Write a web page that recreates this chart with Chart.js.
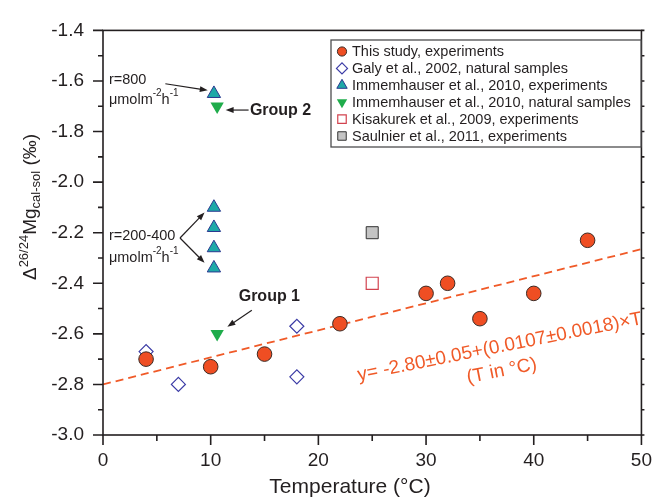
<!DOCTYPE html>
<html>
<head>
<meta charset="utf-8">
<script src="https://cdn.jsdelivr.net/npm/chart.js@4.4.1/dist/chart.umd.min.js"></script>
<style>
  html, body { margin: 0; padding: 0; background: #fff; }
  canvas { display: block; }
</style>
</head>
<body>
<canvas id="chart" width="666" height="497"></canvas>
<script>
// values (temperature in °C, Δ26/24Mg in ‰)
const studyTemp = [4, 10, 15, 22, 30, 32, 35, 40, 45];
const studyMg = [-2.70, -2.73, -2.68, -2.56, -2.44, -2.40, -2.54, -2.44, -2.23];
const galyTemp = [4, 7, 18, 18];
const galyMg = [-2.67, -2.80, -2.57, -2.77];
const immExpTemp = [10.3, 10.3, 10.3, 10.3, 10.3];
const immExpMg = [-1.65, -2.10, -2.18, -2.26, -2.34];
const immNatTemp = [10.6, 10.6];
const immNatMg = [-1.70, -2.60];
const kisaTemp = [25];
const kisaMg = [-2.40];
const saulTemp = [25];
const saulMg = [-2.20];
const fitTemp = [0, 50];
const fitMg = [-2.80, -2.265];

const seriesLabels = [
  'This study, experiments',
  'Galy et al., 2002, natural samples',
  'Immemhauser et al., 2010, experiments',
  'Immemhauser et al., 2010, natural samples',
  'Kisakurek et al., 2009, experiments',
  'Saulnier et al., 2011, experiments'
];

// axis ticks
const xMajor = [0, 10, 20, 30, 40, 50];
const xMinor = [5, 15, 25, 35, 45];
const yMajor = [-3.0, -2.8, -2.6, -2.4, -2.2, -2.0, -1.8, -1.6, -1.4];
const yMinor = [-2.9, -2.7, -2.5, -2.3, -2.1, -1.9, -1.7, -1.5];

const FONT = '"Liberation Sans", Arial, Helvetica, sans-serif';
const INK = '#231f20';
const FIT_COLOR = '#f05a28';

const pts = (xs, ys) => xs.map((x, i) => ({ x: x, y: ys[i] }));

Chart.defaults.font.family = FONT;
Chart.defaults.color = INK;

// draws a run of text pieces (for super/subscripts)
function drawRich(ctx, x, y, parts, align) {
  const fontOf = p => (p.bold ? 'bold ' : '') + p.size + 'px ' + FONT;
  let total = 0;
  parts.forEach(p => { ctx.font = fontOf(p); total += ctx.measureText(p.t).width; });
  let cx = align === 'center' ? x - total / 2 : x;
  ctx.textAlign = 'left';
  ctx.textBaseline = 'alphabetic';
  parts.forEach(p => {
    ctx.font = fontOf(p);
    ctx.fillText(p.t, cx, y + (p.dy || 0));
    cx += ctx.measureText(p.t).width;
  });
}

function arrow(ctx, x1, y1, x2, y2) {
  const a = Math.atan2(y2 - y1, x2 - x1);
  const len = 8, half = 3;
  ctx.beginPath();
  ctx.moveTo(x1, y1);
  ctx.lineTo(x2 - Math.cos(a) * len * 0.8, y2 - Math.sin(a) * len * 0.8);
  ctx.stroke();
  ctx.beginPath();
  ctx.moveTo(x2, y2);
  ctx.lineTo(x2 - Math.cos(a) * len - Math.sin(a) * half, y2 - Math.sin(a) * len + Math.cos(a) * half);
  ctx.lineTo(x2 - Math.cos(a) * len + Math.sin(a) * half, y2 - Math.sin(a) * len - Math.cos(a) * half);
  ctx.closePath();
  ctx.fill();
}

// box frame, tick marks and axis titles
const framePlugin = {
  id: 'frame',
  afterDraw(chart) {
    const { ctx, chartArea: a, scales: { x, y } } = chart;
    ctx.save();
    ctx.strokeStyle = INK;
    ctx.lineWidth = 1.6;
    ctx.strokeRect(a.left, a.top, a.right - a.left, a.bottom - a.top);
    ctx.beginPath();
    xMajor.forEach(v => { const p = x.getPixelForValue(v); ctx.moveTo(p, a.bottom); ctx.lineTo(p, a.bottom + 10); });
    xMinor.forEach(v => { const p = x.getPixelForValue(v); ctx.moveTo(p, a.bottom); ctx.lineTo(p, a.bottom + 6); });
    yMajor.forEach(v => { const p = y.getPixelForValue(v); ctx.moveTo(a.left - 10, p); ctx.lineTo(a.left, p); });
    yMinor.forEach(v => { const p = y.getPixelForValue(v); ctx.moveTo(a.left - 5, p); ctx.lineTo(a.left, p); });
    yMajor.concat(yMinor).forEach(v => { const p = y.getPixelForValue(v); ctx.moveTo(a.right, p); ctx.lineTo(a.right + 3, p); });
    ctx.stroke();

    ctx.fillStyle = INK;
    // x axis title (sits a little left of centre in the original)
    drawRich(ctx, 350, 493, [{ t: 'Temperature (\u00b0C)', size: 21 }], 'center');

    // y axis title with superscript / subscript
    ctx.translate(35.5, 207);
    ctx.rotate(-Math.PI / 2);
    drawRich(ctx, 0, 0, [
      { t: '\u0394', size: 19 },
      { t: '26/24', size: 13, dy: -8 },
      { t: 'Mg', size: 19 },
      { t: 'cal-sol', size: 13, dy: 4 },
      { t: ' (\u2030)', size: 19 }
    ], 'center');
    ctx.restore();
  }
};

// text notes, arrows and the regression equation
const notesPlugin = {
  id: 'notes',
  afterDatasetsDraw(chart) {
    const { ctx, scales: { x, y } } = chart;
    const P = (vx, vy) => [x.getPixelForValue(vx), y.getPixelForValue(vy)];
    const unit = [
      { t: '\u03bcmolm', size: 14.5 },
      { t: '-2', size: 10, dy: -8 },
      { t: 'h', size: 14.5 },
      { t: '-1', size: 10, dy: -8 }
    ];
    ctx.save();
    ctx.fillStyle = INK;
    ctx.strokeStyle = INK;
    ctx.lineWidth = 1.2;

    let p = P(0.55, -1.610);
    drawRich(ctx, p[0], p[1], [{ t: 'r=800', size: 14.5 }]);
    p = P(0.55, -1.692);
    drawRich(ctx, p[0], p[1], unit);
    p = P(0.55, -2.229);
    drawRich(ctx, p[0], p[1], [{ t: 'r=200-400', size: 14.5 }]);
    p = P(0.55, -2.315);
    drawRich(ctx, p[0], p[1], unit);

    p = P(13.64, -1.733);
    drawRich(ctx, p[0], p[1], [{ t: 'Group 2', size: 16, bold: true }]);
    p = P(12.6, -2.470);
    drawRich(ctx, p[0], p[1], [{ t: 'Group 1', size: 16, bold: true }]);

    const arrows = [
      [5.79, -1.611, 9.73, -1.637],
      [13.52, -1.715, 11.39, -1.715],
      [7.15, -2.221, 9.43, -2.120],
      [7.15, -2.221, 9.43, -2.319],
      [13.82, -2.507, 11.55, -2.572]
    ];
    arrows.forEach(r => {
      const s = P(r[0], r[1]), e = P(r[2], r[3]);
      arrow(ctx, s[0], s[1], e[0], e[1]);
    });

    // fit equation, rotated along the dashed line
    ctx.fillStyle = FIT_COLOR;
    const ang = -11.3 * Math.PI / 180;
    p = P(23.75, -2.785);
    ctx.save();
    ctx.translate(p[0], p[1]);
    ctx.rotate(ang);
    drawRich(ctx, 0, 0, [{ t: 'y= -2.80\u00b10.05+(0.0107\u00b10.0018)\u00d7T', size: 19 }]);
    ctx.restore();
    p = P(33.9, -2.795);
    ctx.save();
    ctx.translate(p[0], p[1]);
    ctx.rotate(ang);
    drawRich(ctx, 0, 0, [{ t: '(T in \u00b0C)', size: 19 }]);
    ctx.restore();
    ctx.restore();
  }
};

// boxed legend in the upper right corner
const legendPlugin = {
  id: 'boxLegend',
  afterDraw(chart) {
    const { ctx } = chart;
    const left = 331, top = 40, right = 641, bottom = 147;
    ctx.save();
    ctx.fillStyle = '#fff';
    ctx.fillRect(left, top, right - left, bottom - top);
    ctx.strokeStyle = '#4d4d4f';
    ctx.lineWidth = 1.3;
    ctx.strokeRect(left, top, right - left, bottom - top);
    const items = chart.data.datasets.filter(d => d.inLegend);
    items.forEach((d, i) => {
      const yy = 51.5 + i * 16.9;
      ctx.fillStyle = d.backgroundColor;
      ctx.strokeStyle = d.borderColor;
      ctx.lineWidth = d.borderWidth || 0.001;
      Chart.helpers.drawPoint(ctx, {
        pointStyle: d.pointStyle,
        rotation: d.rotation || 0,
        radius: d.legendRadius,
        borderWidth: d.borderWidth
      }, 342, yy);
      ctx.fillStyle = INK;
      ctx.font = '14.5px ' + FONT;
      ctx.textAlign = 'left';
      ctx.textBaseline = 'middle';
      ctx.fillText(d.label, 352, yy + 0.5);
    });
    ctx.restore();
  }
};

new Chart(document.getElementById('chart'), {
  type: 'scatter',
  data: {
    datasets: [
      {
        label: seriesLabels[0], data: pts(studyTemp, studyMg), inLegend: true,
        pointStyle: 'circle', pointRadius: 7.3, legendRadius: 4.6,
        backgroundColor: '#ef4e23', borderColor: '#3b2b25', borderWidth: 1
      },
      {
        label: seriesLabels[1], data: pts(galyTemp, galyMg), inLegend: true,
        pointStyle: 'rectRot', pointRadius: 7, legendRadius: 5.5,
        backgroundColor: '#ffffff', borderColor: '#3c3ca6', borderWidth: 1.2
      },
      {
        label: seriesLabels[2], data: pts(immExpTemp, immExpMg), inLegend: true,
        pointStyle: 'triangle', pointRadius: 7.7, legendRadius: 6,
        backgroundColor: '#1ea9a8', borderColor: '#2b3990', borderWidth: 1
      },
      {
        label: seriesLabels[3], data: pts(immNatTemp, immNatMg), inLegend: true,
        pointStyle: 'triangle', rotation: 180, pointRotation: 180, pointRadius: 7.7, legendRadius: 6,
        backgroundColor: '#1fac4b', borderColor: '#1fac4b', borderWidth: 0
      },
      {
        label: seriesLabels[4], data: pts(kisaTemp, kisaMg), inLegend: true,
        pointStyle: 'rect', pointRadius: 8.5, legendRadius: 6,
        backgroundColor: '#ffffff', borderColor: '#d2434f', borderWidth: 1.2
      },
      {
        label: seriesLabels[5], data: pts(saulTemp, saulMg), inLegend: true,
        pointStyle: 'rect', pointRadius: 8.5, legendRadius: 6,
        backgroundColor: '#c4c4c4', borderColor: '#333333', borderWidth: 1
      },
      {
        type: 'line', label: 'fit', data: pts(fitTemp, fitMg), order: 10,
        borderColor: FIT_COLOR, borderWidth: 1.8, borderDash: [8, 5],
        pointRadius: 0, fill: false
      }
    ]
  },
  options: {
    responsive: false,
    animation: false,
    devicePixelRatio: 1,
    layout: { padding: { top: 24, right: 13, left: 0, bottom: 0 } },
    plugins: { legend: { display: false }, tooltip: { enabled: false } },
    scales: {
      x: {
        type: 'linear', min: 0, max: 50,
        afterBuildTicks: s => { s.ticks = xMajor.map(v => ({ value: v })); },
        afterFit: s => { s.height = 62; },
        ticks: { padding: 14, font: { size: 19 }, color: INK },
        grid: { display: false, drawTicks: false },
        border: { display: false }
      },
      y: {
        type: 'linear', min: -3.0, max: -1.4,
        afterBuildTicks: s => { s.ticks = yMajor.map(v => ({ value: v })); },
        afterFit: s => { s.width = 103; },
        ticks: { padding: 19, font: { size: 19 }, color: INK, callback: v => v.toFixed(1) },
        grid: { display: false, drawTicks: false },
        border: { display: false }
      }
    }
  },
  plugins: [framePlugin, notesPlugin, legendPlugin]
});
</script>
</body>
</html>
